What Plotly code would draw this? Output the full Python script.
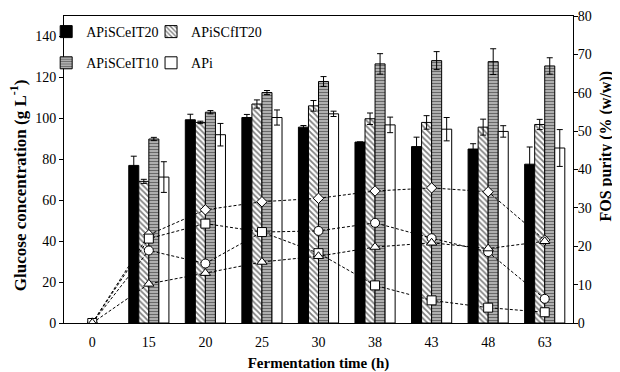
import plotly.graph_objects as go

categories = ["0", "15", "20", "25", "30", "38", "43", "48", "63"]

# Glucose concentration (g/L), bars, left axis
eit20 = [None, 77, 99.3, 100.4, 95.7, 88.4, 86.2, 85, 77.6]
eit20_err = [0, 4.5, 2.7, 1.5, 0.8, 0, 4.6, 2.6, 8.4]
fit20 = [None, 69.2, 98, 107, 106.1, 99.8, 98, 95.7, 97]
fit20_err = [0, 1, 0.6, 2, 2.6, 2.8, 3.3, 3.9, 2.5]
eit10 = [None, 89.9, 103, 112.6, 118, 126.6, 128.2, 127.7, 125.6]
eit10_err = [0, 0.8, 0.8, 1, 2.4, 5, 4.4, 6.3, 4]
api = [None, 71.3, 92, 100.4, 102.2, 96.8, 94.7, 93.6, 85.5]
api_err = [0, 7.5, 5.5, 3.7, 1.3, 3.8, 5.7, 2.8, 9]

# FOS purity (% w/w), lines, right axis
fos_diamond = [0, 23, 29.5, 31.6, 32.5, 34.4, 35.2, 34.2, 21.6]
fos_circle = [0, 18.9, 15.5, 23.7, 24, 26.1, 22.1, 18.5, 6.3]
fos_square = [0, 22, 25.9, 23.7, 18.2, 9.8, 5.9, 4.0, 2.8]
fos_triangle = [0, 10.2, 13, 15.9, 17.4, 19.8, 20.9, 19.4, 21.3]

FONT = "Liberation Serif"

fig = go.Figure()

def err(a):
    return dict(type="data", array=a, visible=True, color="black", thickness=1, width=3)

fig.add_trace(go.Bar(x=categories, y=eit20, name="APiSCeIT20", error_y=err(eit20_err),
                     marker=dict(color="black", line=dict(color="black", width=1)),
                     legend="legend", legendgroup="a"))
fig.add_trace(go.Bar(x=categories, y=fit20, name="APiSCfIT20", error_y=err(fit20_err),
                     marker=dict(color="white", line=dict(color="black", width=1),
                                 pattern=dict(shape="\\", fgcolor="black", bgcolor="white",
                                              size=4, solidity=0.45)),
                     legend="legend2", legendgroup="b"))
fig.add_trace(go.Bar(x=categories, y=eit10, name="APiSCeIT10", error_y=err(eit10_err),
                     marker=dict(color="white", line=dict(color="black", width=1),
                                 pattern=dict(shape="-", fgcolor="black", bgcolor="#d0d0d0",
                                              size=3, solidity=0.55)),
                     legend="legend", legendgroup="c"))
fig.add_trace(go.Bar(x=categories, y=api, name="APi", error_y=err(api_err),
                     marker=dict(color="white", line=dict(color="black", width=1)),
                     legend="legend2", legendgroup="d"))

def line(y, symbol, size):
    return go.Scatter(x=categories, y=y, yaxis="y2", mode="lines+markers", showlegend=False,
                      line=dict(color="black", width=1, dash="3px,2px"),
                      marker=dict(symbol=symbol, size=size, color="white",
                                  line=dict(color="black", width=1)))

fig.add_trace(line(fos_diamond, "diamond", 8))
fig.add_trace(line(fos_circle, "circle", 9))
fig.add_trace(line(fos_square, "square", 9))
fig.add_trace(line(fos_triangle, "triangle-up", 9))

axis_common = dict(showline=True, linecolor="black", linewidth=1, showgrid=False,
                   zeroline=False, automargin=False,
                   tickfont=dict(family=FONT, size=14, color="black"))

# page body has an 8px margin, so the figure is 8px smaller than the window
fig.update_layout(
    width=612, height=364,
    margin=dict(l=56, r=47, t=8, b=49, autoexpand=False),
    paper_bgcolor="white", plot_bgcolor="white",
    barmode="group", bargap=0.29, bargroupgap=0,
    font=dict(family=FONT, color="black"),
    xaxis=dict(**axis_common, mirror=True, ticks="", range=[-0.5, 8.5], ticklabelstandoff=6,
               title=dict(text="<b>Fermentation time (h)</b>", font=dict(family=FONT, size=15),
                          standoff=9)),
    yaxis=dict(**axis_common, range=[0, 150], tickvals=[0, 20, 40, 60, 80, 100, 120, 140],
               ticks="outside", ticklen=4, tickcolor="black"),
    yaxis2=dict(**axis_common, overlaying="y", side="right", range=[0, 80], dtick=10,
                ticks="outside", ticklen=4, tickcolor="black", ticklabelstandoff=-3),
    legend=dict(x=-0.035, y=1.0, xanchor="left", yanchor="top", bgcolor="rgba(0,0,0,0)",
                font=dict(family=FONT, size=14), tracegroupgap=10, traceorder="grouped"),
    legend2=dict(x=0.171, y=1.0, xanchor="left", yanchor="top", bgcolor="rgba(0,0,0,0)",
                 font=dict(family=FONT, size=14), tracegroupgap=10, traceorder="grouped"),
    annotations=[
        dict(text="<b>Glucose concentration (g L<sup>-1</sup>)</b>", textangle=-90,
             xref="paper", yref="paper", x=-0.0898, y=0.45, xanchor="center", yanchor="middle",
             showarrow=False, font=dict(family=FONT, size=17, color="black")),
        dict(text="<b>FOS purity (% (w/w))</b>", textangle=-90,
             xref="paper", yref="paper", x=1.064, y=0.5765, xanchor="center", yanchor="middle",
             showarrow=False, font=dict(family=FONT, size=16, color="black")),
    ],
)

fig.write_html("out.html")
